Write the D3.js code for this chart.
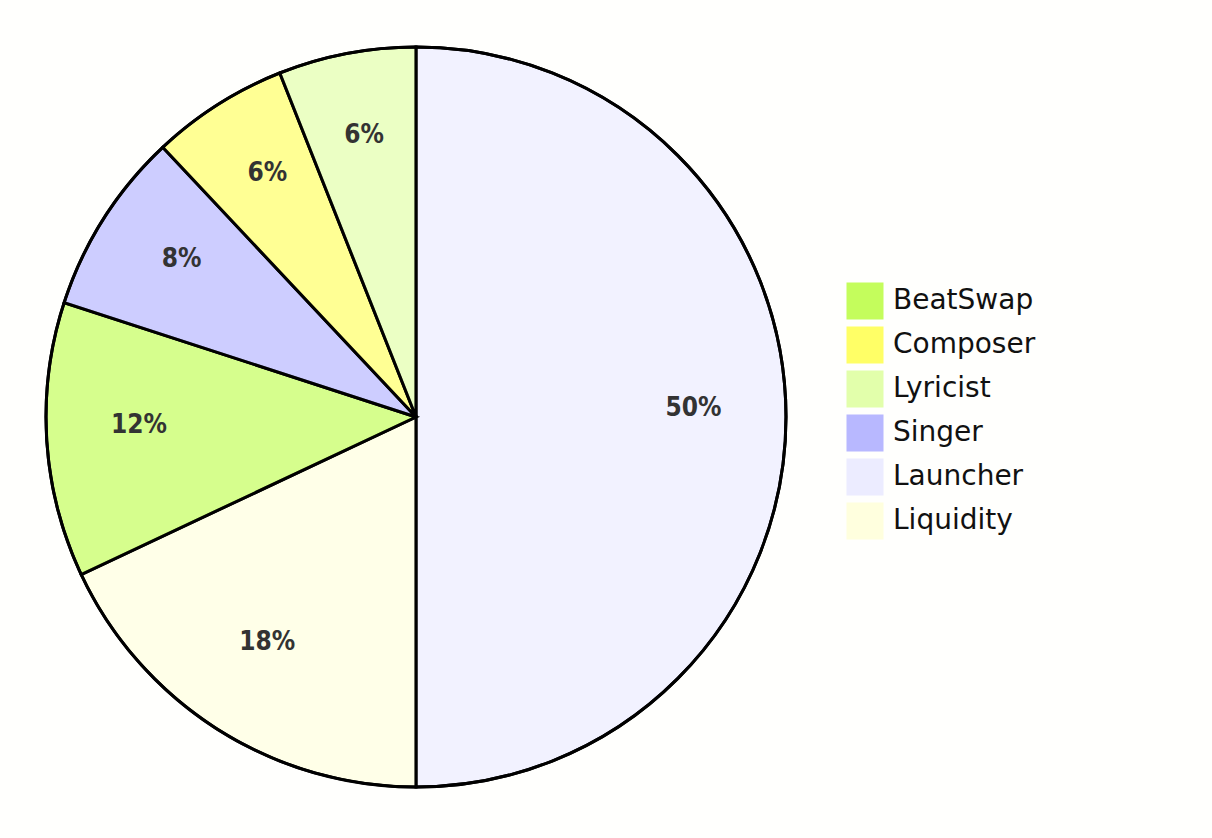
<!DOCTYPE html>
<html><head><meta charset="utf-8">
<script src="https://cdn.jsdelivr.net/npm/d3@7"></script>
<style>body{margin:0;background:#fffffd;}</style>
</head><body>
<div id="chart"></div>
<script>
const labels = ["BeatSwap", "Composer", "Lyricist", "Singer", "Launcher", "Liquidity"];
const values = [12, 6, 6, 8, 50, 18];
const colors = ["#c4fd5c", "#ffff66", "#e2ffab", "#b8b8ff", "#ececff", "#ffffde"];
// drawing order, clockwise from 12 o'clock
const sliceOrder = ["Launcher", "Liquidity", "BeatSwap", "Singer", "Composer", "Lyricist"];

const width = 1212, height = 838;
const cx = 416, cy = 417, radius = 370;

const svg = d3.select('#chart').append('svg')
    .attr('width', width).attr('height', height);

const color = d3.scaleOrdinal().domain(labels).range(colors);

const data = sliceOrder.map(l => ({label: l, value: values[labels.indexOf(l)]}));
const total = d3.sum(data, d => d.value);

const pie = d3.pie().sort(null).value(d => d.value);
const arcs = pie(data);
const arc = d3.arc().innerRadius(0).outerRadius(radius);
const arcLabel = d3.arc().innerRadius(radius * 0.75).outerRadius(radius * 0.75);

const g = svg.append('g').attr('transform', `translate(${cx},${cy})`);

g.selectAll('path').data(arcs).enter().append('path')
    .attr('d', arc)
    .attr('fill', d => color(d.data.label))
    .attr('fill-opacity', 0.7)
    .attr('stroke', 'black')
    .attr('stroke-width', 3);

g.append('circle').attr('r', radius).attr('fill', 'none')
    .attr('stroke', 'black').attr('stroke-width', 3);

g.selectAll('text').data(arcs).enter().append('text')
    .attr('transform', d => { const c = arcLabel.centroid(d); return `translate(${c[0]},${c[1] - 9})`; })
    .attr('text-anchor', 'middle')
    .attr('dominant-baseline', 'middle')
    .style('font-family', '"DejaVu Sans Condensed", "DejaVu Sans", sans-serif')
    .style('font-size', '26px')
    .style('font-weight', '600')
    .attr('fill', '#333')
    .text(d => Math.round(d.data.value / total * 100) + '%');

const legend = svg.append('g').attr('transform', 'translate(847,283)');
const items = legend.selectAll('g').data(labels).enter().append('g')
    .attr('transform', (d, i) => `translate(0,${i * 44})`);
items.append('rect').attr('width', 36).attr('height', 36)
    .attr('fill', d => color(d)).attr('stroke', d => color(d));
items.append('text').attr('x', 46).attr('y', 18)
    .attr('dominant-baseline', 'middle')
    .style('font-family', '"DejaVu Sans", sans-serif')
    .style('font-size', '28px')
    .attr('fill', '#111')
    .text(d => d);
</script>
</body></html>
